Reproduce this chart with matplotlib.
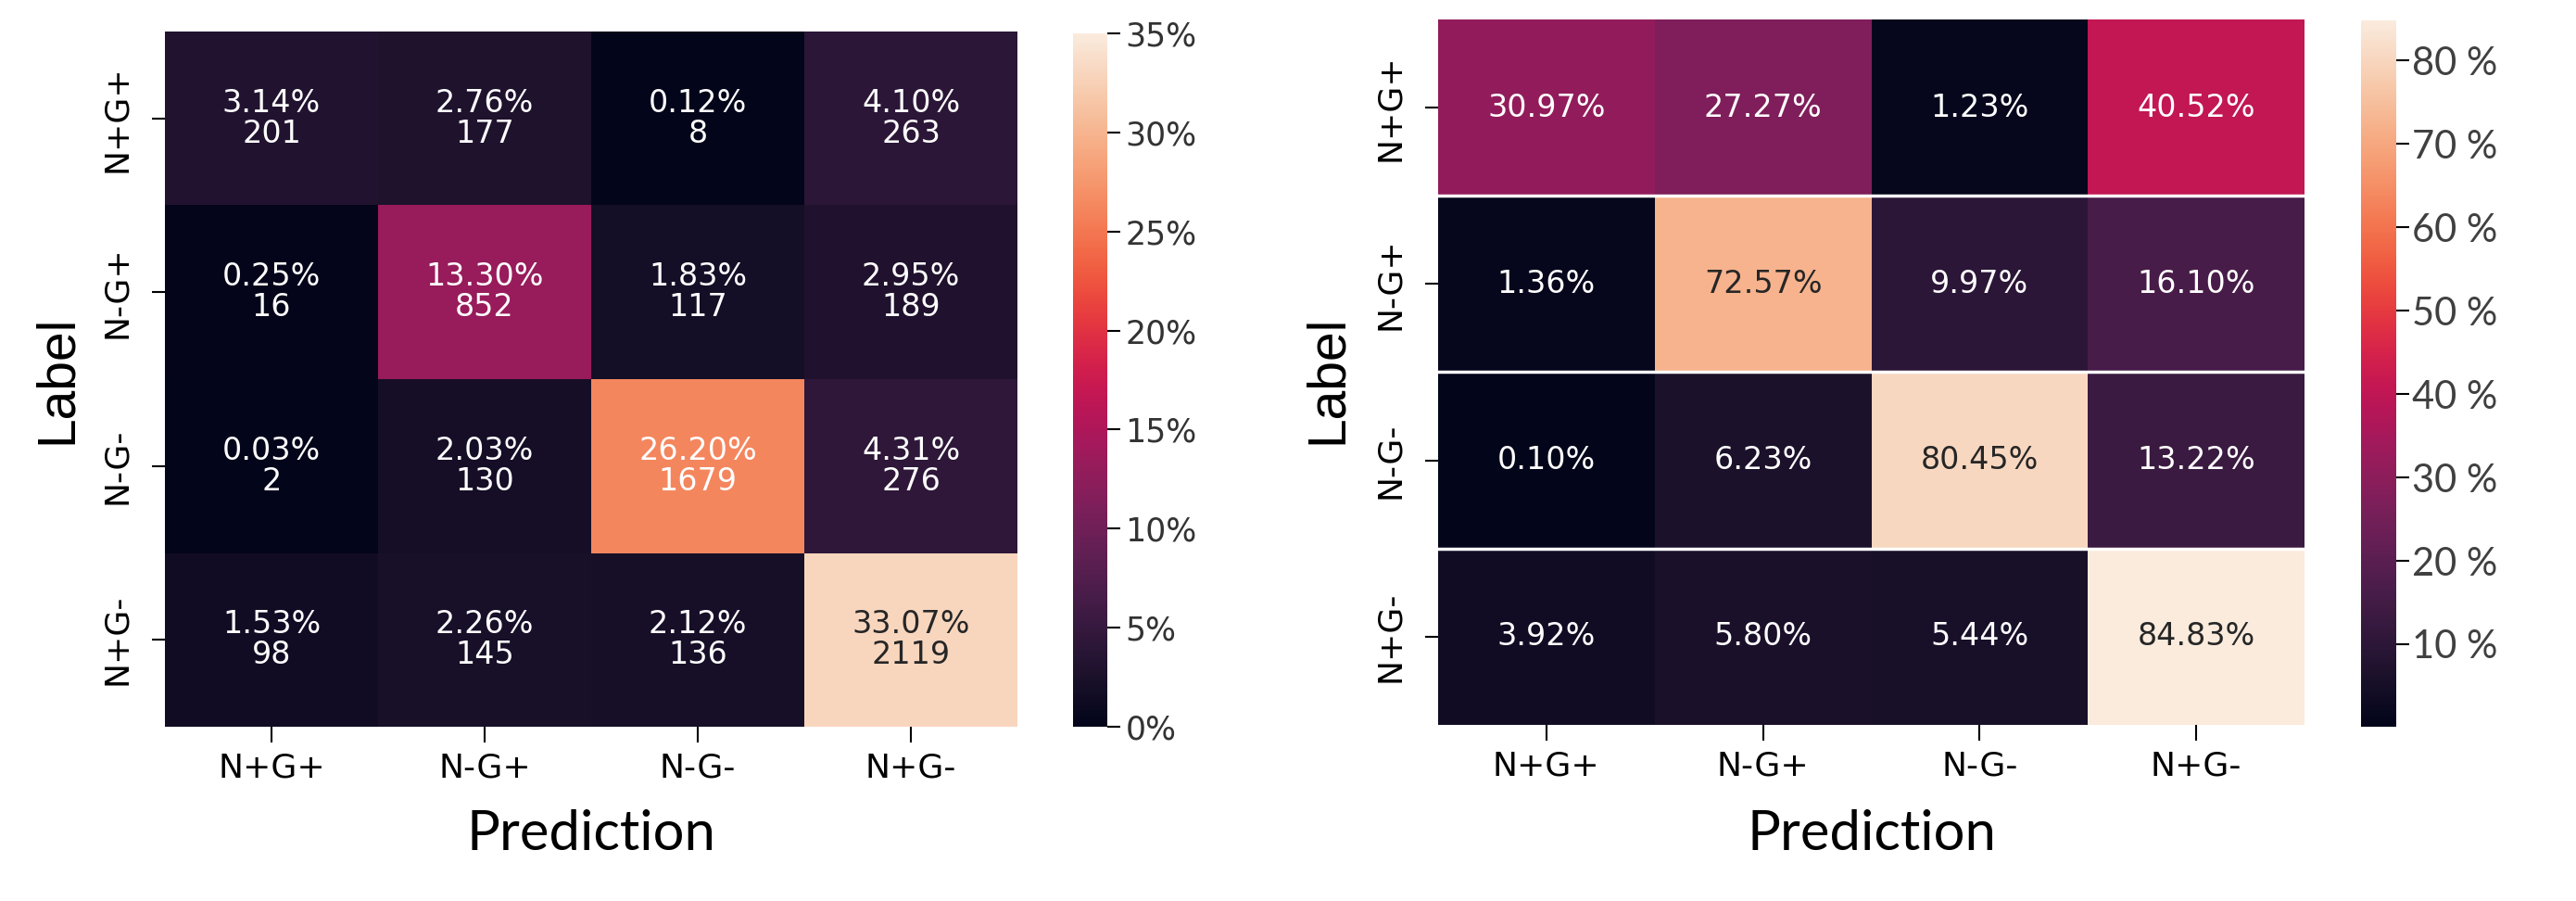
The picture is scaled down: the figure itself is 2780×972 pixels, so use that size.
import numpy as np
import matplotlib
matplotlib.use("Agg")
import matplotlib.pyplot as plt
import seaborn as sns

classes = ["N+G+", "N-G+", "N-G-", "N+G-"]

# left: share of all samples (%) and raw counts
share_pct = [[3.14, 2.76, 0.12, 4.10],
             [0.25, 13.30, 1.83, 2.95],
             [0.03, 2.03, 26.20, 4.31],
             [1.53, 2.26, 2.12, 33.07]]
counts = [[201, 177, 8, 263],
          [16, 852, 117, 189],
          [2, 130, 1679, 276],
          [98, 145, 136, 2119]]

# right: row-normalised (%)
row_pct = [[30.97, 27.27, 1.23, 40.52],
           [1.36, 72.57, 9.97, 16.10],
           [0.10, 6.23, 80.45, 13.22],
           [3.92, 5.80, 5.44, 84.83]]

left_ticks = [0, 5, 10, 15, 20, 25, 30, 35]
right_ticks = [10, 20, 30, 40, 50, 60, 70, 80]

W, H = 2780, 972
fig = plt.figure(figsize=(W / 100, H / 100), dpi=100)

def box(x0, y0, x1, y1):
    # pixel box (top-left origin) -> figure fraction
    return [x0 / W, 1 - y1 / H, (x1 - x0) / W, (y1 - y0) / H]

ax1 = fig.add_axes(box(178, 34, 1098, 784))
cax1 = fig.add_axes(box(1158, 36, 1195, 784))
ax2 = fig.add_axes(box(1552, 21, 2487, 782))
cax2 = fig.add_axes(box(2548, 22, 2586, 784))

share = np.array(share_pct)
annot1 = np.array([["%.2f%%\n%d" % (p, c) for p, c in zip(pr, cr)]
                   for pr, cr in zip(share_pct, counts)])
sns.heatmap(share, ax=ax1, cbar_ax=cax1, cmap="rocket", vmin=0, vmax=35,
            annot=annot1, fmt="", xticklabels=classes, yticklabels=classes,
            annot_kws={"fontsize": 24, "linespacing": 1.0})

rows = np.array(row_pct)
annot2 = np.array([["%.2f%%" % v for v in r] for r in row_pct])
sns.heatmap(rows, ax=ax2, cbar_ax=cax2, cmap="rocket",
            annot=annot2, fmt="", xticklabels=classes, yticklabels=classes,
            annot_kws={"fontsize": 24})
for y in [1, 2, 3]:
    ax2.axhline(y, color="white", lw=2.5)

for ax in (ax1, ax2):
    ax.tick_params(axis="x", labelsize=26, length=12, width=1.5, pad=8,
                   rotation=0)
    ax.tick_params(axis="y", labelsize=26, length=10, width=1.5, pad=15)
    for t in ax.get_yticklabels():
        t.set_rotation(90)
        t.set_va("center")

cb1 = ax1.collections[0].colorbar
cb1.set_ticks(left_ticks)
cb1.set_ticklabels(["%d%%" % t for t in left_ticks])
cax1.tick_params(labelsize=25, length=10, width=1.5, pad=4,
                 labelcolor="#333333")

cb2 = ax2.collections[0].colorbar
cb2.set_ticks(right_ticks)
cb2.set_ticklabels(["%d %%" % t for t in right_ticks])
cax2.tick_params(labelsize=30, length=10, width=1.5, pad=2,
                 labelcolor="#404040")
for t in cax2.get_yticklabels():
    t.set_family("Lato")

for cx, lx in [((178 + 1098) / 2, 62), ((1552 + 2487) / 2, 1433)]:
    fig.text(cx / W, 1 - 900 / H, "Prediction", ha="center", va="center",
             fontsize=43, family="Lato")
    fig.text(lx / W, 1 - 409 / H, "Label", ha="center", va="center",
             rotation=90, fontsize=41, family="Liberation Sans")

fig.savefig("out.png", dpi=100)
